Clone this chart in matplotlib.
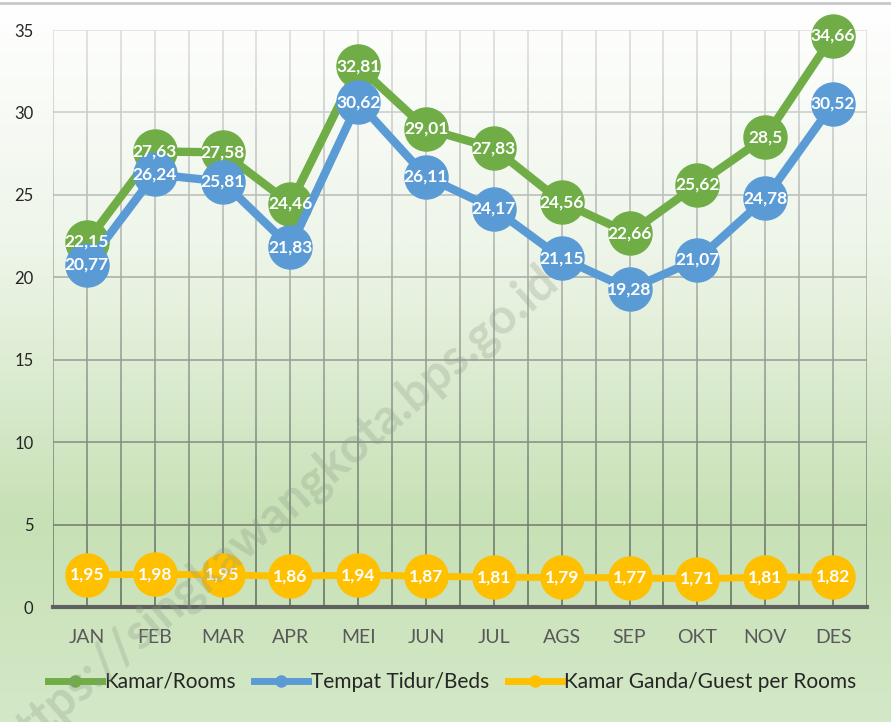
import numpy as np
import matplotlib
matplotlib.use("Agg")
import matplotlib.pyplot as plt
from matplotlib.collections import LineCollection
from matplotlib.colors import LinearSegmentedColormap
from matplotlib.lines import Line2D

months = ['JAN', 'FEB', 'MAR', 'APR', 'MEI', 'JUN', 'JUL', 'AGS', 'SEP', 'OKT', 'NOV', 'DES']
kamar = [22.15, 27.63, 27.58, 24.46, 32.81, 29.01, 27.83, 24.56, 22.66, 25.62, 28.5, 34.66]
tempat = [20.77, 26.24, 25.81, 21.83, 30.62, 26.11, 24.17, 21.15, 19.28, 21.07, 24.78, 30.52]
ganda = [1.95, 1.98, 1.95, 1.86, 1.94, 1.87, 1.81, 1.79, 1.77, 1.71, 1.81, 1.82]

series = [
    ('Kamar/Rooms', kamar, '#70AD47'),
    ('Tempat Tidur/Beds', tempat, '#5B9BD5'),
    ('Kamar Ganda/Guest per Rooms', ganda, '#FFC000'),
]

plt.rcParams['font.family'] = ['Lato', 'DejaVu Sans']

fig = plt.figure(figsize=(8.91, 7.22), dpi=100)

# background gradient (white at top -> light green)
bg = fig.add_axes([0, 0, 1, 1], zorder=-10)
stops = [(0.0, (1.0, 1.0, 1.0)), (0.35, (0.93, 0.96, 0.91)),
         (0.72, (0.78, 0.88, 0.71)), (1.0, (0.83, 0.91, 0.78))]
bg_cmap = LinearSegmentedColormap.from_list('bg', stops)
grad = np.linspace(0, 1, 400).reshape(-1, 1)
bg.imshow(grad, aspect='auto', cmap=bg_cmap, extent=[0, 1, 0, 1], origin='upper')
bg.axis('off')
fig.add_artist(Line2D([0, 1], [0.996, 0.996], color='#c8c8c8', lw=2, transform=fig.transFigure))

ax = fig.add_axes([53 / 891, 115 / 722, 814 / 891, 577 / 722])
ax.patch.set_alpha(0)
x = np.arange(len(months))
ax.set_xlim(-0.5, len(months) - 0.5)
ax.set_ylim(0, 35)

# grid with colour fading from light grey at top to dark grey at bottom
grid_cmap = LinearSegmentedColormap.from_list('grid', ['#5e6b5c', '#dcdcdc'])
n = 60
ys = np.linspace(0, 35, n + 1)
segs, cols = [], []
for gx in np.arange(-0.5, len(months), 0.5):
    for i in range(n):
        segs.append([(gx, ys[i]), (gx, ys[i + 1])])
        cols.append(grid_cmap((ys[i] + ys[i + 1]) / 70))
for gy in range(5, 36, 5):
    segs.append([(-0.5, gy), (len(months) - 0.5, gy)])
    cols.append(grid_cmap(gy / 35))
ax.add_collection(LineCollection(segs, colors=cols, linewidths=1.1, zorder=0))

for name, vals, c in series:
    ax.plot(x, vals, color=c, lw=6 if c != '#FFC000' else 5, marker='o',
            markersize=31, solid_capstyle='round', zorder=2, clip_on=False)
for name, vals, c in series:
    for xi, v in zip(x, vals):
        ax.text(xi, v, f'{v:g}'.replace('.', ','), color='white', fontsize=12.5,
                fontweight='bold', ha='center', va='center', zorder=5)

for s in ['top', 'right', 'left']:
    ax.spines[s].set_visible(False)
ax.spines['bottom'].set_color('#606060')
ax.spines['bottom'].set_linewidth(3)
ax.spines['bottom'].set_zorder(1)

ax.set_xticks(x)
ax.set_xticklabels(months, fontsize=14, color='#595959')
ax.set_yticks(range(0, 36, 5))
ax.tick_params(axis='y', labelsize=12, colors='#262626', length=0, pad=14)
ax.tick_params(axis='x', length=0, pad=16)

handles = [Line2D([], [], color=c, lw=5, marker='o', markersize=8) for _, _, c in series]
ax.legend(handles, [s[0] for s in series], loc='upper center', bbox_to_anchor=(0.49, -0.08),
          ncol=3, frameon=False, fontsize=15, handlelength=2.6, handletextpad=0.1,
          columnspacing=0.9, labelcolor='#262626')

# watermark
fig.text(0.31, 0.29, 'https://singkawangkota.bps.go.id', rotation=41, fontsize=35,
         fontweight='bold', color='#8a9886', alpha=0.28, ha='center', va='center', zorder=10)

fig.savefig('out.png', dpi=100)
